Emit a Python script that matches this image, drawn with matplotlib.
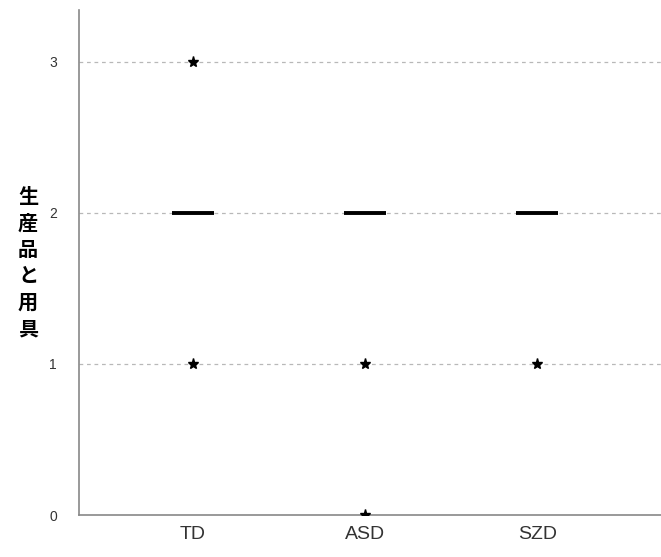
import matplotlib.pyplot as plt

# groups and values
groups = ["TD", "ASD", "SZD"]
medians = [2, 2, 2]
outlier_groups = ["TD", "TD", "ASD", "ASD", "SZD"]
outlier_values = [3, 1, 1, 0, 1]
y_ticks = [0, 1, 2, 3]
y_label = "生\n産\n品\nと\n用\n具"

fig = plt.figure(figsize=(6.61, 5.57), dpi=100)
ax = fig.add_axes([0.1195, 0.0754, 0.8805, 0.907])

pos = {g: i for i, g in enumerate(groups)}

# grid lines behind the boxes
for y in y_ticks[1:]:
    ax.axhline(y, color="#b8b8b8", linestyle=(0, (3, 3)), linewidth=0.9, zorder=0)

# boxes collapse to the median line
ax.hlines(medians, [i - 0.12 for i in range(len(groups))],
          [i + 0.12 for i in range(len(groups))], color="black", linewidth=2.8, zorder=3)

ax.plot([pos[g] for g in outlier_groups], outlier_values, linestyle="none",
        marker="*", markersize=8, color="black", zorder=4)

ax.set_xlim(-0.663, 2.72)
ax.set_ylim(0, 3.344)
ax.set_xticks(range(len(groups)))
ax.set_xticklabels(groups, fontsize=14, color="#333333", family="Liberation Sans")
ax.set_yticks(y_ticks)
ax.set_yticklabels([str(v) for v in y_ticks], fontsize=10, color="#333333",
                   family="Liberation Sans")
ax.tick_params(length=0, pad=16)
ax.tick_params(axis="x", pad=8)

for side in ["top", "right"]:
    ax.spines[side].set_visible(False)
for side in ["left", "bottom"]:
    ax.spines[side].set_color("#888888")
    ax.spines[side].set_linewidth(1.2)

ax.set_ylabel(y_label, rotation=0, fontsize=14.5, fontweight="bold",
              family=["Noto Sans CJK JP", "DejaVu Sans"], linespacing=1.32,
              va="center", labelpad=15)

fig.savefig("out.png", dpi=100)
